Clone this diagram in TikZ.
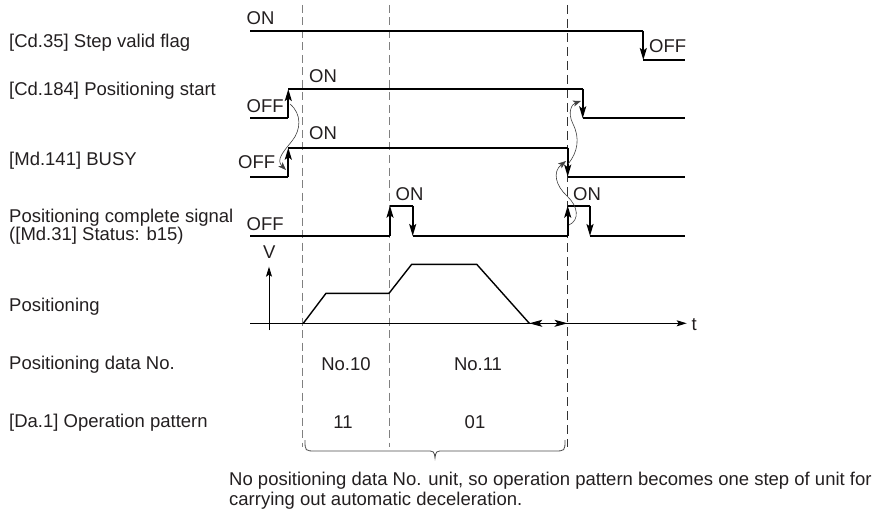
\documentclass[tikz,border=0pt]{standalone}
\usepackage{fontspec}
\setmainfont{Liberation Sans}
\usetikzlibrary{arrows.meta}
\definecolor{txt}{HTML}{231F20}
\begin{document}
\begin{tikzpicture}[x=1pt,y=-1pt,
  lbl/.style={anchor=base west,inner sep=0pt,text=txt,font=\fontsize{18.5}{20}\selectfont},
  ctr/.style={anchor=base,inner sep=0pt,text=txt,font=\fontsize{18.5}{20}\selectfont},
  sig/.style={line width=1.7pt,black,line join=miter},
  sigarrow/.style={sig,-{Stealth[length=12pt,width=7pt,inset=2.5pt]}},
  guide/.style={gray,line width=1.3pt,dash pattern=on 8pt off 4.5pt},
  guidek/.style={black!80,line width=1pt,dash pattern=on 9pt off 5pt},
  cause/.style={black!75,line width=0.6pt,-{Stealth[length=8pt,width=6pt,inset=2pt]}},
  axis/.style={line width=0.9pt,black,-{Stealth[length=10pt,width=6pt,inset=2pt]}},
  prof/.style={line width=1.4pt,black,line join=miter}]
\useasboundingbox (0,0) rectangle (874,513);

% dashed guide lines
\coordinate (g1t) at (302.5,5);   \coordinate (g1b) at (302.5,447);
\coordinate (g2t) at (389.5,5);   \coordinate (g2b) at (389.5,447);
\coordinate (g3t) at (567.5,5);   \coordinate (g3b) at (567.5,447);
\draw[guide] (g1t) -- (g1b);
\draw[guide] (g2t) -- (g2b);
\draw[guidek] (g3t) -- (g3b);

% left labels
\node[lbl] (l1) at (9,48) {[Cd.35] Step valid flag};
\node[lbl] (l2) at (9,96) {[Cd.184] Positioning start};
\node[lbl] (l3) at (9,165) {[Md.141] BUSY};
\node[lbl] (l4) at (9,222) {Positioning complete signal};
\node[lbl] (l4b) at (9,240) {([Md.31] Status: b15)};
\node[lbl] (l5) at (9,311) {Positioning};
\node[lbl] (l6) at (9,369) {Positioning data No.};
\node[lbl] (l7) at (9,427) {[Da.1] Operation pattern};

% ON / OFF labels
\node[lbl] (on1) at (246.5,25) {ON};
\node[lbl] (off1) at (649,53) {OFF};
\node[lbl] (on2) at (309,83) {ON};
\node[lbl] (off2) at (246.5,113) {OFF};
\node[lbl] (on3) at (309,140) {ON};
\node[lbl] (off3) at (238,168) {OFF};
\node[lbl] (on4) at (395.5,200) {ON};
\node[lbl] (on5) at (573,200) {ON};
\node[lbl] (off4) at (246.5,230) {OFF};

% Step valid flag
\draw[sig] (250,30.7) -- (643.3,30.7);
\draw[sigarrow] (643.3,30.7) -- (643.3,60);
\draw[sig] (643.3,60) -- (685,60);

% Positioning start
\draw[sig] (250,118.3) -- (288.3,118.3);
\draw[sigarrow] (288.3,118.3) -- (288.3,89);
\draw[sig] (288.3,89) -- (582.7,89);
\draw[sigarrow] (582.7,89) -- (582.7,118.3);
\draw[sig] (582.7,118.3) -- (685,118.3);

% BUSY
\draw[sig] (250,176.7) -- (288.3,176.7);
\draw[sigarrow] (288.3,176.7) -- (288.3,147.7);
\draw[sig] (288.3,147.7) -- (567.7,147.7);
\draw[sigarrow] (567.7,147.7) -- (567.7,176.7);
\draw[sig] (567.7,176.7) -- (685,176.7);

% Positioning complete signal
\draw[sig] (250,236) -- (390,236);
\draw[sigarrow] (390,236) -- (390,205.7);
\draw[sig] (390,205.7) -- (412.7,205.7);
\draw[sigarrow] (412.7,205.7) -- (412.7,236);
\draw[sig] (412.7,236) -- (567.7,236);
\draw[sigarrow] (567.7,236) -- (567.7,205.7);
\draw[sig] (567.7,205.7) -- (590,205.7);
\draw[sigarrow] (590,205.7) -- (590,236);
\draw[sig] (590,236) -- (685,236);

% cause-effect curves
\draw[cause] (290,104) .. controls (302,114) and (301,130) .. (292,141)
  .. controls (283,152) and (276,160) .. (286,170);
\draw[cause] (568,164) .. controls (578,152) and (580,138) .. (573,124)
  .. controls (567,112) and (572,104) .. (581,101);
\draw[cause] (569,225) .. controls (580,220) and (578,206) .. (567,196)
  .. controls (556,186) and (552,172) .. (566,161);

% velocity graph
\coordinate (vb) at (269,330);
\coordinate (vt) at (269,266.7);
\coordinate (tl) at (250,323.3);
\coordinate (tr) at (686.7,323.3);
\draw[axis] (vb) -- (vt);
\draw[axis] (tl) -- (tr);
\node[lbl] (V) at (263,258) {V};
\node[lbl] (t) at (691.5,330) {t};
\draw[prof] (303.3,323.3) -- (326,293.3) -- (389,293.3) -- (411.7,264.3) -- (476.7,264.3) -- (529.3,323.3);
\coordinate (d1) at (529.3,323.3);
\coordinate (d2) at (567.5,323.3);
\draw[line width=0.9pt,{Stealth[length=13pt,width=7pt,inset=3pt]}-{Stealth[length=13pt,width=7pt,inset=3pt]}] (d1) -- (d2);

% data No. and pattern
\node[ctr] (n10) at (346,370) {No.10};
\node[ctr] (n11) at (478,370) {No.11};
\node[ctr] (p11) at (343,428) {11};
\node[ctr] (p01) at (475,428) {01};

% brace
\draw[black!70,line width=0.8pt] (305,440) .. controls (305,451) .. (316,451) -- (426,451)
  .. controls (434,451) .. (435,458) .. controls (436,451) .. (444,451) -- (554,451)
  .. controls (565,451) .. (565,440);

% note
\node[lbl] (note1) at (229,485) {No positioning data No. unit, so operation pattern becomes one step of unit for};
\node[lbl] (note2) at (229,505) {carrying out automatic deceleration.};
\end{tikzpicture}
\end{document}
